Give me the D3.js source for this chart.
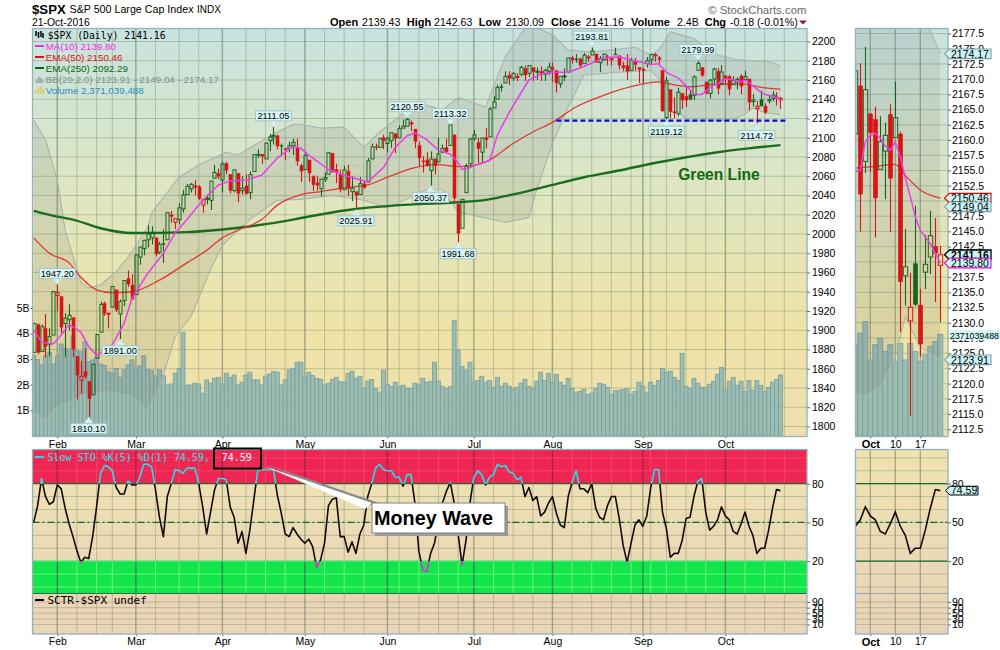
<!DOCTYPE html>
<html><head><meta charset="utf-8">
<script src="https://cdnjs.cloudflare.com/ajax/libs/d3/7.8.5/d3.min.js"></script>
<style>html,body{margin:0;padding:0;background:#fff}svg{display:block}svg{font-family:"Liberation Sans",Arial,sans-serif}</style>
</head><body><svg id="c" width="1000" height="650"></svg>
<script>
const dates=[
"01-22","01-25","01-26","01-27","01-28","01-29",
"02-01","02-02","02-03","02-04","02-05","02-08","02-09","02-10","02-11","02-12","02-16","02-17","02-18","02-19","02-22","02-23","02-24","02-25","02-26","02-29",
"03-01","03-02","03-03","03-04","03-07","03-08","03-09","03-10","03-11","03-14","03-15","03-16","03-17","03-18","03-21","03-22","03-23","03-24","03-28","03-29","03-30","03-31",
"04-01","04-04","04-05","04-06","04-07","04-08","04-11","04-12","04-13","04-14","04-15","04-18","04-19","04-20","04-21","04-22","04-25","04-26","04-27","04-28","04-29",
"05-02","05-03","05-04","05-05","05-06","05-09","05-10","05-11","05-12","05-13","05-16","05-17","05-18","05-19","05-20","05-23","05-24","05-25","05-26","05-27","05-31",
"06-01","06-02","06-03","06-06","06-07","06-08","06-09","06-10","06-13","06-14","06-15","06-16","06-17","06-20","06-21","06-22","06-23","06-24","06-27","06-28","06-29","06-30",
"07-01","07-05","07-06","07-07","07-08","07-11","07-12","07-13","07-14","07-15","07-18","07-19","07-20","07-21","07-22","07-25","07-26","07-27","07-28","07-29",
"08-01","08-02","08-03","08-04","08-05","08-08","08-09","08-10","08-11","08-12","08-15","08-16","08-17","08-18","08-19","08-22","08-23","08-24","08-25","08-26","08-29","08-30","08-31",
"09-01","09-02","09-06","09-07","09-08","09-09","09-12","09-13","09-14","09-15","09-16","09-19","09-20","09-21","09-22","09-23","09-26","09-27","09-28","09-29","09-30",
"10-03","10-04","10-05","10-06","10-07","10-10","10-11","10-12","10-13","10-14","10-17","10-18","10-19","10-20","10-21"];
const opens=[
1877,1906,1878,1902,1885,1895,
1936,1935,1907,1911,1913,1873,1848,1857,1847,1833,1871,1898,1928,1917,1924,1942,1917,1931,1954,1947,
1937,1976,1985,1994,1996,1996,1981,1990,1994,2019,2012,2015,2026,2041,2047,2049,2049,2030,2037,2035,2058,2063,
2056,2073,2062,2045,2063,2045,2050,2043,2065,2082,2083,2078,2097,2101,2102,2092,2089,2089,2092,2090,2071,
2067,2077,2060,2053,2047,2057,2062,2084,2067,2062,2046,2065,2044,2044,2041,2052,2054,2078,2091,2090,2100,
2094,2097,2104,2100,2110,2112,2115,2109,2092,2076,2077,2066,2078,2075,2085,2090,2092,2103,2031,2006,2043,2073,
2099,2095,2085,2100,2101,2131,2140,2153,2157,2165,2162,2163,2166,2172,2167,2173,2168,2169,2166,2169,
2173,2170,2156,2164,2168,2183,2182,2182,2177,2183,2186,2187,2178,2181,2184,2181,2187,2185,2175,2175,2170,2179,2173,
2171,2177,2181,2186,2183,2170,2121,2150,2127,2125,2146,2143,2145,2144,2170,2173,2158,2146,2161,2168.9,2156.5,
2164.3,2163.4,2155.2,2158.2,2164.2,2160.4,2161,2137.7,2130.3,2139.7,2132.9,2138.3,2140.8,2142.5,2139.43];
const highs=[
1908,1907,1906,1917,1902,1940,
1947.2,1935,1918,1927,1913,1873,1868,1881,1847,1864,1895,1930,1930,1918,1946,1942,1932,1952,1962,1958,
1978,1987,1994,2009,2008,1996,1992,2005,2022,2024,2016,2032,2046,2052,2053,2056,2051,2036,2041,2055,2072,2068,
2075,2075,2062,2067,2063,2060,2062,2065,2083,2088,2083,2095,2104,2111.05,2103,2094,2089,2096,2099,2099,2073,
2084,2077,2061,2060,2057,2064,2084,2084,2073,2067,2071,2072,2060,2044,2059,2055,2079,2094,2094,2099,2103,
2101,2105,2105,2113,2119,2120.55,2118,2109,2096,2081,2085,2086,2078,2100,2093,2099,2113.32,2103,2031,2036,2073,2098,
2108,2100,2100,2110,2132,2143,2155,2156,2169,2169,2168,2167,2175,2175,2175,2173,2173,2174,2172,2178,
2178,2170,2164,2172,2183,2185,2187,2183,2188,2186,2193.81,2187,2185,2187,2186,2185,2193.4,2186,2179,2187,2183,2183,2173,
2173,2184,2186,2188,2185,2170,2163,2150,2142,2152,2146,2153,2150,2165,2179.99,2173,2158,2161,2173,2172.6,2175.3,
2164.4,2165.5,2163.9,2162.9,2165.9,2169.6,2161.4,2145.4,2138.2,2149.2,2135.6,2144.4,2148.4,2147.2,2142.63];
const lows=[
1877,1875,1878,1872,1873,1895,
1920,1897,1872,1900,1872,1828,1834,1850,1810.1,1833,1871,1898,1915,1902,1924,1919,1891,1925,1945,1932,
1937,1968,1978,1986,1989,1977,1979,1970,1994,2012,2005,2010,2022,2041,2043,2040,2035,2022,2031,2025,2058,2057,
2043,2062,2042,2043,2033,2041,2041,2036,2065,2079,2073,2078,2086,2093,2088,2081,2077,2085,2082,2071,2054,
2067,2054,2045,2045,2039,2054,2062,2064,2053,2043,2046,2040,2034,2025.91,2041,2047,2054,2078,2087,2090,2088,
2085,2089,2084,2100,2110,2112,2107,2089,2071,2064,2070,2050.37,2062,2075,2084,2084,2092,2032,1991.68,2006,2043,2070,
2097,2074,2074,2089,2101,2131,2140,2148,2157,2155,2159,2159,2164,2159,2163,2159,2160,2159,2159,2165,
2158,2147,2152,2159,2168,2177,2178,2172,2177,2179,2186,2178,2168,2180,2175,2175,2186,2171,2169,2160,2170,2170,2157,
2157,2173,2176,2179,2177,2127,2119.12,2120,2120,2122,2130,2132,2139,2139,2170,2163,2145,2141,2156,2145,2154.6,
2154.8,2144,2155.2,2150.3,2144.9,2160.4,2128.5,2132.8,2114.72,2132.7,2124.4,2135.5,2138,2133.4,2130.09];
const closes=[
1906.9,1877.08,1903.63,1882.95,1893.36,1940.24,
1939.38,1903.03,1912.53,1915.45,1880.05,1853.44,1852.21,1851.86,1829.08,1864.78,1895.58,1926.82,1917.83,1917.78,1945.5,1921.27,1929.8,1951.7,1948.05,1932.23,
1978.35,1986.45,1993.4,1999.99,2001.76,1979.26,1989.26,1989.57,2022.19,2019.64,2015.93,2027.22,2040.59,2049.58,2051.6,2049.8,2036.71,2035.94,2037.05,2055.01,2063.95,2059.74,
2072.78,2066.13,2045.17,2066.66,2041.91,2047.6,2041.99,2061.72,2082.42,2082.78,2080.73,2094.34,2100.8,2102.4,2091.48,2091.58,2087.79,2091.7,2095.15,2075.81,2065.3,
2081.43,2063.37,2051.12,2050.63,2057.14,2058.69,2084.39,2064.46,2064.11,2046.61,2066.66,2047.21,2047.63,2040.04,2052.32,2048.04,2076.06,2090.54,2090.1,2099.06,2096.95,
2099.33,2105.26,2099.13,2109.41,2112.13,2119.12,2115.48,2096.07,2079.06,2075.32,2071.5,2077.99,2071.22,2083.25,2088.9,2085.45,2113.32,2037.41,2000.54,2036.09,2070.77,2098.86,
2102.95,2088.55,2099.73,2097.9,2129.9,2137.16,2152.14,2152.43,2163.75,2161.74,2166.89,2163.78,2173.02,2165.17,2175.03,2168.48,2169.18,2166.58,2170.06,2173.6,
2170.84,2157.03,2163.79,2164.25,2182.87,2180.89,2181.74,2175.49,2185.79,2184.05,2190.15,2178.15,2182.22,2187.02,2183.87,2182.64,2186.9,2175.44,2172.47,2169.04,2180.38,2176.12,2170.95,
2170.86,2179.98,2186.48,2186.16,2181.3,2127.81,2159.04,2127.02,2125.77,2147.26,2139.16,2139.12,2139.76,2163.12,2177.18,2164.69,2146.1,2159.93,2171.37,2151.13,2168.27,
2161.2,2150.49,2159.73,2160.77,2153.74,2163.66,2136.73,2139.18,2132.55,2132.98,2126.5,2139.6,2144.29,2141.34,2141.16];
const volumes=[
3.16,2.99,2.77,3.13,3.27,2.81,3.13,3.59,3.42,3.39,3.91,3.33,3.29,3.68,2.90,2.97,3.07,2.81,2.75,2.51,2.45,2.64,2.29,2.58,2.77,2.97,
2.64,2.73,3.13,2.60,2.55,2.34,2.58,2.36,1.99,2.03,2.45,2.64,4.05,1.99,1.99,2.06,2.03,1.67,2.19,2.06,2.25,2.29,
2.03,2.45,2.29,2.38,1.99,2.10,2.38,2.49,2.19,2.19,1.99,2.34,2.42,2.51,2.49,1.99,2.19,2.58,2.64,2.88,
2.88,2.29,2.49,2.36,2.25,2.21,1.99,2.06,2.21,2.29,2.12,2.10,2.45,2.53,2.25,2.33,1.86,2.14,2.21,1.86,1.71,2.57,
2.02,1.93,2.10,1.93,1.98,1.86,1.85,2.06,2.02,2.25,2.10,2.14,2.88,2.14,1.93,1.85,1.93,4.52,3.35,2.72,2.57,2.88,
2.10,2.17,2.33,2.10,2.17,1.90,2.29,1.94,2.06,1.94,1.82,1.90,2.06,2.21,1.94,1.86,2.14,2.49,2.17,2.45,2.10,2.41,
2.10,1.98,2.25,1.86,1.71,1.74,1.82,1.62,1.67,1.86,2.06,2.02,1.90,1.62,1.78,1.78,1.82,1.86,1.62,1.74,2.10,1.94,1.71,
2.10,1.98,2.17,2.64,2.49,2.53,2.29,2.17,3.23,1.94,1.86,2.25,2.06,1.90,1.90,2.02,2.14,2.41,2.68,1.78,
2.14,2.29,1.98,2.14,1.74,2.17,1.78,2.17,1.98,1.74,1.90,2.10,2.21,2.38];
const sto=[
50,63,84,70,64,66,79,76,61,49,39,28,19,23,22,39,62,88,94,93,90,77,72,72,82,79,
79,85,95,95,93,75,54,39,70,80,91,90,88,92,92,92,80,62,41,58,75,84,
84,83,62,54,34,43,26,44,67,90,91,91,91,91,71,57,41,39,46,41,37,34,37,
31,15,21,34,63,68,69,39,39,27,35,26,41,48,70,80,92,95,91,
90,90,85,85,78,87,87,65,28,13,12,26,34,52,65,74,81,65,41,17,36,65,
85,90,87,79,85,87,95,93,94,89,88,83,85,70,77,67,70,55,58,65,
70,57,48,46,70,81,90,76,76,73,80,61,54,52,63,70,70,53,32,19,34,48,52,
47,55,77,91,91,58,45,23,26,26,36,53,54,70,82,84,58,44,47,52,62,
55,52,43,41,49,58,47,40,26,30,30,44,61,75.4,74.59];
const ma10Days=[0,2,4,5,7,9,12,14,16,20,23,25,29,33,36,39,43,47,50,54,58,62,66,68,70,75,79,85,89,92,95,97,100,103,106,108,109,111,114,116,118,121,123,126,129,132,136,140,145,149,153,157,159,161,164,167,168,170,173,174,175,176,177,178,179,180,181,182,183,184,185,186,187,188,189,190];
const ma10=[1900,1888,1886,1886,1895,1906,1898,1883,1874,1885,1907,1933,1959,1980,2001,2015,2035,2051,2055,2056,2061,2079,2091,2089,2082,2067,2061,2054,2069,2090,2102,2105,2098,2087,2083,2074,2067,2069,2074,2076,2103,2126,2140,2160,2166,2168,2168,2174,2183,2184,2180,2176,2177,2168,2162,2150,2145,2145,2154.8,2155,2159.7,2160.8,2161.1,2160.3,2159,2158.3,2159.7,2157.3,2153.8,2150.7,2147.4,2145.2,2144.1,2143,2141.4,2139.8];
const ema50Days=[0,4,9,12,16,20,25,32,39,44,48,52,58,62,68,73,79,85,90,97,103,108,113,116,122,127,132,138,145,152,159,163,167,173,176,181,183,186,190];
const ema50=[1996,1980,1970,1955,1942,1939,1940,1952,1970,1983,1996,2004,2015,2030,2041,2044,2048,2051,2059,2069,2072,2070,2072,2077,2094,2106,2116,2132,2144,2153,2158,2155,2153,2155.4,2155.6,2156,2154.2,2151.8,2150.46];
const ema250Days=[0,6,10,17,25,39,51,66,68,80,93,106,115,123,132,140,149,157,165,174,182,190];
const ema250=[2024,2018,2015,2006,2001,2002,2006,2015,2016.6,2025,2030,2032.5,2035.5,2042,2051,2059,2066,2073,2079,2085,2089,2092.29];
const bbUpperDays=[0,3,6,8,12,14,17,21,24,29,30,32,37,42,49,52,56,62,66,68,73,79,84,88,93,97,104,108,115,120,125,128,132,136,142,153,157,159,162,168,174,179,187,188,189,190];
const bbUpper=[2118,2098,2056,2004,1950,1944,1947,1961,1976,2007,2022,2033,2059,2072,2085,2082,2092,2106,2114,2114,2110,2111,2090,2106,2122,2137,2129,2142,2132,2184,2214,2214,2207,2191,2189,2194,2186,2191,2210,2203,2186,2181,2179,2178,2176,2174.17];
const bbLowerDays=[0,3,6,13,19,25,29,32,36,40,45,48,52,55,62,68,76,84,90,100,104,108,120,126,128,132,136,140,149,157,161,164,167,173,175,178,181,183,186,190];
const bbLower=[1814,1807,1820,1833,1836,1831,1817,1841,1893,1914,1963,1988,2004,2015,2035,2036,2040,2035,2027,2046,2046,2023,2012,2017,2046,2094,2132,2165,2168,2170,2153,2126,2117,2118.5,2118,2119.5,2124.3,2131,2126,2123.91];
const bbMidDays=[0,3,6,17,25,29,34,38,41,46,59,67,72,79,85,92,101,108,115,120,127,132,136,144,157,162,165,173,177,180,186,190];
const bbMid=[1966,1949,1928,1890,1904,1914,1937,1966,1980,2018,2059,2075,2077,2070,2072,2089,2098,2082,2080,2090,2115,2140,2155,2176,2178,2170,2168,2157.5,2154,2152.3,2153,2149.04];
const majorDays=[6,26,48,69,90,112,132,155,176];
const minorDays=[11,16,20,31,37,42,54,59,64,74,79,84,93,98,103,108,117,122,127,137,142,147,152,157,161,166,171,181,186,191];
const monthNames=["Feb","Mar","Apr","May","Jun","Jul","Aug","Sep","Oct"];
const insetDays=[176,181,186];
const insetTickLabels=["Oct","10","17"];
const priceTicks=[2200,2180,2160,2140,2120,2100,2080,2060,2040,2020,2000,1980,1960,1940,1920,1900,1880,1860,1840,1820,1800];
const insetPriceTicks=[2177.5,2175,2172.5,2170,2167.5,2165,2162.5,2160,2157.5,2155,2152.5,2150,2147.5,2145,2142.5,2140,2137.5,2135,2132.5,2130,2127.5,2125,2122.5,2120,2117.5,2115,2112.5];
const volumeTicks=[1,2,3,4,5];
const stoTicks=[80,50,20];
const sctrTicks=[90,70,50,30,10];
const peakDays=[6,22,14,61,82,95,101,106,108,142,161,169,184];
const peakValues=["1947.20","1891.00","1810.10","2111.05","2025.91","2120.55","2050.37","2113.32","1991.68","2193.81","2119.12","2179.99","2114.72"];
const peakSide=["up","down","down","up","down","up","down","up","down","up","down","up","down"];
const supportLevel=2117.7, supportDays=[133,192];
const greenLineLabel=["Green Line",164,2056];
const insetValues=[2174.17,2150.46,2149.04,2141.16,2139.80,2123.91];
const insetBorders=["#7f9ca3","#e00000","#7f9ca3","#000","#e000e0","#7f9ca3"];
const headerLabels=["Open","High","Low","Close","Volume","Chg"];
const headerValues=["2139.43","2142.63","2130.09","2141.16","2.4B","-0.18 (-0.01%)"];

const svg=d3.select("#c"), defs=svg.append("defs");
const P={l:32.5,r:807,t:28.5,b:436.5,st:449.5,sb:634}, I={l:855.5,r:948};
const x=d3.scaleLinear().domain([0,190]).range([33.7,780.4]);
const xI=d3.scaleLinear().domain([176,190]).range([870.3,940.3]);
const yP=d3.scaleLinear().domain([1800,2200]).range([426.5,41.5]);
const yI=d3.scaleLinear().domain([2112.5,2177.5]).range([429.3,33.5]);
const yV=d3.scaleLinear().domain([0,5]).range([436,308]);
const yVI=d3.scaleLinear().domain([0,5]).range([436,222.5]);
const yS=d3.scaleLinear().domain([0,100]).range([587,457.8]);
const ySC=d3.scaleLinear().domain([10,90]).range([624.5,602]);

function grad(id,stops,y1,y2){const g=defs.append("linearGradient").attr("id",id).attr("gradientUnits","userSpaceOnUse").attr("x1",0).attr("x2",0).attr("y1",y1).attr("y2",y2);
 stops.forEach(s=>g.append("stop").attr("offset",s[0]).attr("stop-color",s[1]));}
grad("bgP",[[0,"#c8e3e0"],[.42,"#e0e6c0"],[.75,"#f0e3a6"],[1,"#eedfb0"]],P.t,P.b);
grad("bgS",[[0,"#eee0b4"],[1,"#ead6b6"]],483,594);
grad("bgI",[[0,"#efe3ae"],[.4,"#ecdcb6"],[1,"#ead3b6"]],P.st,P.sb);
function clip(id,x0,y0,w,h){defs.append("clipPath").attr("id",id).append("rect").attr("x",x0).attr("y",y0).attr("width",w).attr("height",h);}
clip("cP",P.l,P.t,P.r-P.l,P.b-P.t); clip("cI",I.l,P.t,I.r-I.l,P.b-P.t);
clip("cHi",P.l,P.st,P.r-P.l,yS(80)-P.st); clip("cMid",P.l,yS(80),P.r-P.l,yS(20)-yS(80)); clip("cLo",P.l,yS(20),P.r-P.l,30);
clip("cSI",I.l,P.st,I.r-I.l,P.sb-P.st);

const GREEN="#16651c", RED="#d81414", GRID="rgba(112,140,108,.40)", MAJOR="rgba(110,130,110,.60)", BORDER="#93b2b8";
const seq=(a,b)=>a.map((d,i)=>[d,b[i]]);

function pricePanel(g,xs,ys,yv,dx,bw,first,grids){
 const pl=xs===x?P.l:I.l, pr=xs===x?P.r:I.r;
 g.append("rect").attr("x",pl).attr("y",P.t).attr("width",pr-pl).attr("height",P.b-P.t).attr("fill","url(#bgP)");
 const c=g.append("g").attr("clip-path",xs===x?"url(#cP)":"url(#cI)");
 const ticks=xs===x?priceTicks:insetPriceTicks;
 c.selectAll("line.h").data(ticks).join("line").attr("x1",pl).attr("x2",pr).attr("y1",d=>ys(d)).attr("y2",d=>ys(d)).attr("stroke",GRID);
 grids.forEach(([days,col,w])=>c.append("g").selectAll("line").data(days).join("line").attr("x1",d=>xs(d)).attr("x2",d=>xs(d)).attr("y1",P.t).attr("y2",P.b).attr("stroke",col).attr("stroke-width",w));
 const idx=d3.range(first,dates.length);
 c.append("g").selectAll("rect").data(idx).join("rect").attr("x",i=>xs(i)-dx/2).attr("width",dx).attr("y",i=>yv(volumes[i])).attr("height",i=>436-yv(volumes[i])).attr("fill","#99bbb0").attr("fill-opacity",.95).attr("stroke","#7aa3a3").attr("stroke-width",.9);
 const area=d3.area().x(d=>xs(d[0])).y0(d=>ys(d[2])).y1(d=>ys(d[1]));
 const iu=d3.scaleLinear().domain(bbUpperDays).range(bbUpper), il=d3.scaleLinear().domain(bbLowerDays).range(bbLower);
 const merged=Array.from(new Set([...bbUpperDays,...bbLowerDays])).sort((a,b)=>a-b).map(d=>[d,iu(d),il(d)]);
 c.append("path").attr("d",area(merged)).attr("fill","rgba(100,110,115,.145)");
 const line=(dd,vv,col,w,dash,curve)=>{const p=c.append("path").attr("d",d3.line().curve(curve||d3.curveLinear).x(d=>xs(d[0])).y(d=>ys(d[1]))(seq(dd,vv))).attr("fill","none").attr("stroke",col).attr("stroke-width",w).attr("stroke-linejoin","round");if(dash)p.attr("stroke-dasharray",dash);};
 line(bbUpperDays,bbUpper,"#aab4ac",1.1); line(bbLowerDays,bbLower,"#aab4ac",1.1); line(bbMidDays,bbMid,"#b3bbb3",1,"2,3");
 line(ema250Days,ema250,"#1b6c1f",2.4,null,d3.curveMonotoneX);
 line(ema50Days,ema50,"#dc3a34",1.3,null,d3.curveMonotoneX);
 c.append("g").selectAll("g").data(idx).join("g").each(function(i){
  const s=d3.select(this), up=i===0||closes[i]>=closes[i-1], col=up?GREEN:RED, hollow=closes[i]>opens[i];
  const top=Math.max(opens[i],closes[i]), bot=Math.min(opens[i],closes[i]), X=Math.round(xs(i))+.5;
  s.append("line").attr("x1",X).attr("x2",X).attr("y1",ys(highs[i])).attr("y2",ys(top)).attr("stroke",col).attr("stroke-width",1.1);
  s.append("line").attr("x1",X).attr("x2",X).attr("y1",ys(bot)).attr("y2",ys(lows[i])).attr("stroke",col).attr("stroke-width",1.1);
  s.append("rect").attr("x",X-bw/2).attr("width",bw).attr("y",ys(top)).attr("height",Math.max(1,ys(bot)-ys(top))).attr("fill",hollow?"none":col).attr("stroke",col).attr("stroke-width",hollow?1:.4);
 });
 line(ma10Days,ma10,"#ea3fe8",1.5);
 return c;
}
const grids=[[minorDays,GRID,1],[majorDays,MAJOR,1.5]];
const gridsI=[[insetDays,MAJOR,1.3]];
pricePanel(svg.append("g"),x,yP,yV,3.93,3.1,0,grids);
pricePanel(svg.append("g"),xI,yI,yVI,5,4.4,173,gridsI);

const lab=svg.append("g");
peakDays.forEach((d,k)=>{
 const up=peakSide[k]==="up", X=x(d), v=+peakValues[k], yv=yP(v), W=36, H=10;
 const y0=up?yv-6.3-H:yv+6.8;
 const tip=up?yv-.5:yv+.5, base=up?y0+H:y0;
 lab.append("path").attr("d",d3.line()([[X-5,base],[X,tip],[X+5,base]])).attr("fill","#d3f2f2").attr("stroke","#bcd6d8").attr("stroke-width",.6);
 lab.append("rect").attr("x",X-W/2).attr("y",y0).attr("width",W).attr("height",H).attr("fill","#d6f5f5").attr("stroke","#a7c3c9");
 lab.append("text").attr("x",X).attr("y",y0+8.4).attr("text-anchor","middle").attr("font-size",9.2).attr("fill","#000").text(peakValues[k]);
});
svg.append("line").attr("x1",x(supportDays[0])).attr("x2",x(supportDays[1])).attr("y1",yP(supportLevel)).attr("y2",yP(supportLevel)).attr("stroke","#0a0ae6").attr("stroke-width",2.2).attr("stroke-dasharray","5,3");
svg.append("text").attr("x",x(greenLineLabel[1])).attr("y",yP(greenLineLabel[2])).attr("font-size",15.6).attr("font-weight","bold").attr("fill","#0f6a12").text(greenLineLabel[0]);

[[P.l,P.t,P.r-P.l,P.b-P.t],[I.l,P.t,I.r-I.l,P.b-P.t]].forEach(r=>svg.append("rect").attr("x",r[0]).attr("y",r[1]).attr("width",r[2]).attr("height",r[3]).attr("fill","none").attr("stroke",BORDER).attr("stroke-width",1.3));

function styleAxis(g,size){g.select(".domain").remove();g.selectAll("line").attr("stroke","#667");g.selectAll("text").attr("font-family",'"Liberation Sans",Arial,sans-serif').attr("font-size",size).attr("fill","#000");}
svg.append("g").attr("transform",`translate(${P.r},0)`).call(d3.axisRight(yP).tickValues(priceTicks).tickFormat(d3.format("d")).tickSize(3).tickPadding(2)).call(styleAxis,10.5);
svg.append("g").attr("transform",`translate(${I.r},0)`).call(d3.axisRight(yI).tickValues(insetPriceTicks).tickFormat(d3.format(".1f")).tickSize(3).tickPadding(1)).call(styleAxis,10.5);
svg.append("g").attr("transform",`translate(${P.l},0)`).call(d3.axisLeft(yV).tickValues(volumeTicks).tickFormat(d=>d+"B").tickSize(2).tickPadding(1)).call(styleAxis,10.5);
function bottomAxis(y){
 const a=d3.axisBottom(x).tickValues(majorDays).tickFormat((d,i)=>monthNames[i]).tickSize(2).tickPadding(2);
 svg.append("g").attr("transform",`translate(0,${y})`).call(a).call(styleAxis,10.5);
}
bottomAxis(P.b);
bottomAxis(P.sb);
function insetBottom(y){svg.append("g").attr("transform",`translate(0,${y})`).call(d3.axisBottom(xI).tickValues(insetDays).tickFormat((d,i)=>insetTickLabels[i]).tickSize(2).tickPadding(2)).call(styleAxis,10.5).call(g=>g.selectAll("text").filter(t=>t===176).attr("font-weight","bold").attr("font-size",11));}
insetBottom(P.b); insetBottom(P.sb);

function flag(v,yy,border,bold,x1,h){
 const b=svg.append("g");
 b.append("path").attr("d",`M${x1-5},${yy}L${x1},${yy-h/2}L${x1+41.5},${yy-h/2}L${x1+41.5},${yy+h/2}L${x1},${yy+h/2}Z`).attr("fill","#cbf4f4").attr("stroke",border).attr("stroke-width",border==="#000"?1.3:1.1);
 b.append("text").attr("x",x1+1.5).attr("y",yy+3.9).attr("font-size",10.5).attr("font-weight",bold?"bold":"normal").attr("fill","#000").text(v);
}
insetValues.forEach((v,k)=>flag(v.toFixed(2),yI(v),insetBorders[k],k===3,949.5,9.6));
svg.append("rect").attr("x",949).attr("y",330).attr("width",51).attr("height",10).attr("fill","#d3f6f4");
svg.append("text").attr("x",950).attr("y",338.5).attr("font-size",8.8).attr("fill","#000").text("2371039488");

const sp=svg.append("g");
const zones=[[P.st,yS(80),"#ef2653","rgba(255,120,140,.35)","rgba(110,30,60,.55)"],
 [yS(80),yS(20),"url(#bgS)",GRID,MAJOR],
 [yS(20),593.5,"#12e64a","rgba(190,255,170,.5)","rgba(60,100,80,.75)"],
 [593.5,P.sb,"#ebd5b6",GRID,MAJOR]];
zones.forEach(z=>{
 sp.append("rect").attr("x",P.l).attr("y",z[0]).attr("width",P.r-P.l).attr("height",z[1]-z[0]).attr("fill",z[2]);
 [[minorDays,z[3],1],[majorDays,z[4],1.4]].forEach(([dd,col,w])=>sp.append("g").selectAll("line").data(dd).join("line").attr("x1",d=>x(d)).attr("x2",d=>x(d)).attr("y1",z[0]).attr("y2",z[1]).attr("stroke",col).attr("stroke-width",w));
 const ls=d3.range(0,101,10).filter(v=>yS(v)>z[0]+.5&&yS(v)<z[1]-.5);
 sp.append("g").selectAll("line").data(ls).join("line").attr("x1",P.l).attr("x2",P.r).attr("y1",d=>yS(d)).attr("y2",d=>yS(d)).attr("stroke",z[3]);
});
sp.append("g").selectAll("line").data(sctrTicks).join("line").attr("x1",P.l).attr("x2",P.r).attr("y1",d=>ySC(d)).attr("y2",d=>ySC(d)).attr("stroke",GRID);
const hline=(g,x0,x1,y,col,w,dash)=>{const l=g.append("line").attr("x1",x0).attr("x2",x1).attr("y1",y).attr("y2",y).attr("stroke",col).attr("stroke-width",w);if(dash)l.attr("stroke-dasharray",dash);};
hline(sp,P.l,P.r,yS(80),"#1c6a30",1.3);
hline(sp,P.l,P.r,yS(50),"#0f6a35",1.2,"7,3,2,3");
hline(sp,P.l,P.r,yS(20),"#3fe06a",1.3);
hline(sp,P.l,P.r,593.5,"#2d6d42",1.2);
hline(sp,P.l,P.r,P.st,"#8a3030",1);
const stoLine=d3.line().x((d,i)=>x(i)).y(d=>yS(d));
[["cMid","#150a0a"],["cHi","#25dfe6"],["cLo","#dd2fdd"]].forEach(([c,col])=>sp.append("path").attr("d",stoLine(sto)).attr("fill","none").attr("stroke",col).attr("stroke-width",1.6).attr("stroke-linejoin","round").attr("clip-path",`url(#${c})`));
sp.append("rect").attr("x",P.l).attr("y",P.st).attr("width",P.r-P.l).attr("height",P.sb-P.st).attr("fill","none").attr("stroke",BORDER).attr("stroke-width",1.3);
svg.append("g").attr("transform",`translate(${P.r},0)`).call(d3.axisRight(yS).tickValues(stoTicks).tickSize(3).tickPadding(2)).call(styleAxis,10.5);
svg.append("g").attr("transform",`translate(${P.r},0)`).call(d3.axisRight(ySC).tickValues(sctrTicks).tickSize(3).tickPadding(2)).call(styleAxis,10.5);

const si=svg.append("g");
si.append("rect").attr("x",I.l).attr("y",P.st).attr("width",I.r-I.l).attr("height",P.sb-P.st).attr("fill","url(#bgI)");
si.append("g").selectAll("line").data(d3.range(0,101,10)).join("line").attr("x1",I.l).attr("x2",I.r).attr("y1",d=>yS(d)).attr("y2",d=>yS(d)).attr("stroke",GRID);
si.append("g").selectAll("line").data(sctrTicks).join("line").attr("x1",I.l).attr("x2",I.r).attr("y1",d=>ySC(d)).attr("y2",d=>ySC(d)).attr("stroke",GRID);
si.append("g").selectAll("line").data(insetDays).join("line").attr("x1",d=>xI(d)).attr("x2",d=>xI(d)).attr("y1",P.st).attr("y2",P.sb).attr("stroke",MAJOR).attr("stroke-width",1.3);
hline(si,I.l,I.r,yS(80),"#1c6a30",1.2);hline(si,I.l,I.r,yS(20),"#1c6a30",1.2);hline(si,I.l,I.r,yS(50),"#0f6a35",1.2,"7,3,2,3");hline(si,I.l,I.r,593.5,"#8fa8a8",1);
si.append("path").attr("d",d3.line().x(d=>xI(d[0])).y(d=>yS(d[1]))(d3.range(173,191).map(i=>[i,sto[i]]))).attr("fill","none").attr("stroke","#150a0a").attr("stroke-width",1.6).attr("clip-path","url(#cSI)");
si.append("rect").attr("x",I.l).attr("y",P.st).attr("width",I.r-I.l).attr("height",P.sb-P.st).attr("fill","none").attr("stroke",BORDER).attr("stroke-width",1.3);
svg.append("g").attr("transform",`translate(${I.r},0)`).call(d3.axisRight(yS).tickValues(stoTicks).tickSize(3).tickPadding(1)).call(styleAxis,10.5);
svg.append("g").attr("transform",`translate(${I.r},0)`).call(d3.axisRight(ySC).tickValues(sctrTicks).tickSize(3).tickPadding(1)).call(styleAxis,10.5);
const f=svg.append("g");
f.append("path").attr("d",`M945.5,${yS(74.59)}L950,${yS(74.59)-4.4}L978,${yS(74.59)-4.4}L978,${yS(74.59)+4.4}L950,${yS(74.59)+4.4}Z`).attr("fill","#cbf4f4").attr("stroke","#000");
f.append("text").attr("x",951).attr("y",yS(74.59)+3.8).attr("font-size",10.5).text("74.59");

const MONO='"DejaVu Sans Mono",monospace';
svg.append("line").attr("x1",35).attr("x2",44).attr("y1",457).attr("y2",457).attr("stroke","#25dfe6").attr("stroke-width",2);
svg.append("text").attr("x",47.5).attr("y",460.5).style("font-family",MONO).attr("font-size",10).attr("fill","#25e0e6").text("Slow STO %K(5) %D(1) 74.59,");
svg.append("text").attr("x",221.7).attr("y",460.5).style("font-family",MONO).attr("font-size",10).attr("fill","#fff").text("74.59");
svg.append("rect").attr("x",214).attr("y",448.5).attr("width",47).attr("height",20).attr("fill","none").attr("stroke","#000").attr("stroke-width",2);
svg.append("line").attr("x1",35).attr("x2",44).attr("y1",600).attr("y2",600).attr("stroke","#000").attr("stroke-width",2);
svg.append("text").attr("x",47.5).attr("y",603.5).style("font-family",MONO).attr("font-size",11).attr("fill","#000").text("SCTR-$SPX undef");
svg.append("path").attr("d","M264,463.5L379,503L366,506Z").attr("fill","#8a8a8a");
svg.append("path").attr("d","M264,466L372,503L365,509Z").attr("fill","#fff");
svg.append("rect").attr("x",375).attr("y",506).attr("width",133).attr("height",30).attr("fill","#9a9a9a");
svg.append("rect").attr("x",372).attr("y",503).attr("width",133).attr("height",30).attr("fill","#fff").attr("stroke","#808080");
svg.append("text").attr("x",374).attr("y",525.3).attr("font-size",19.8).attr("font-weight","bold").attr("fill","#000").text("Money Wave");

const lg=svg.append("g");
lg.append("text").attr("x",47.7).attr("y",39).style("font-family",MONO).attr("font-size",9.8).text("$SPX (Daily) 2141.16");
lg.append("path").attr("d","M36,36V31M38.5,38V32M41,37V31M43,38V33").attr("stroke","#111").attr("stroke-width",1.6).attr("fill","none");
[["MA(10) 2139.80","#ee2fe8",49.5],["EMA(50) 2150.46","#dd1111",60.5],["EMA(250) 2092.29","#0c650f",71.5]].forEach(r=>{
 lg.append("line").attr("x1",35).attr("x2",44).attr("y1",r[2]-3.5).attr("y2",r[2]-3.5).attr("stroke",r[1]).attr("stroke-width",2);
 lg.append("text").attr("x",45.7).attr("y",r[2]).attr("font-size",9.8).attr("fill",r[1]).text(r[0]);
});
lg.append("path").attr("d","M35,83L39,76L41,78L44,83Z").attr("fill","#9fb0ae");
lg.append("text").attr("x",45.7).attr("y",82.5).attr("font-size",9.8).attr("fill","#7f8f96").text("BB(20,2.0) 2123.91 - 2149.04 - 2174.17");
lg.append("path").attr("d","M36,94V90M38.5,94V87M41,94V86M43.5,94V89").attr("stroke","#e0c660").attr("stroke-width",1.4).attr("fill","none");
lg.append("text").attr("x",45.7).attr("y",93.5).attr("font-size",9.8).attr("fill","#2a8ec6").text("Volume 2,371,039,488");

const h=svg.append("g");
h.append("text").attr("x",32).attr("y",14).attr("font-size",13.2).attr("font-weight","bold").text("$SPX");
h.append("text").attr("x",69.5).attr("y",13).attr("font-size",10.7).text("S&P 500 Large Cap Index");
h.append("text").attr("x",197).attr("y",13).attr("font-size",10).text("INDX");
h.append("text").attr("x",32).attr("y",26).attr("font-size",10.4).text("21-Oct-2016");
const hx=[330,406.7,478.7,551,631,704.7], vx=[362,434,505.7,585.7,677,730];
headerLabels.forEach((t,i)=>{
 h.append("text").attr("x",hx[i]).attr("y",26).attr("font-size",11).attr("font-weight","bold").text(t);
 h.append("text").attr("x",vx[i]).attr("y",26).attr("font-size",10.6).text(headerValues[i]);
});
h.append("path").attr("d","M799,20.5L807,20.5L803,24.5Z").attr("fill","#8a1c3a");
h.append("text").attr("x",806.5).attr("y",13.5).attr("text-anchor","end").attr("font-size",11.4).attr("fill","#666").text("\u00A9 StockCharts.com");
</script></body></html>
